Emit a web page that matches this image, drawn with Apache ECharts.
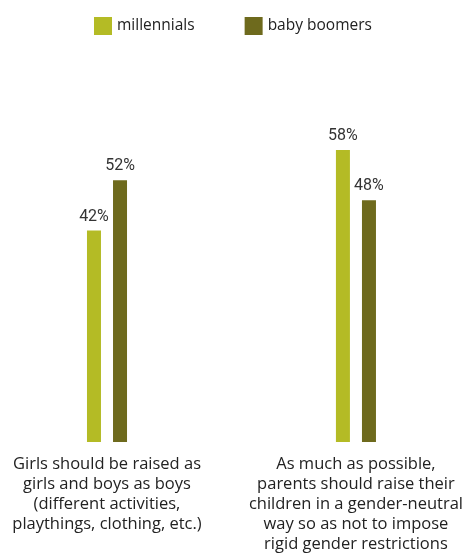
<!DOCTYPE html>
<html><head><meta charset="utf-8">
<script src="https://cdn.jsdelivr.net/npm/echarts@6/dist/echarts.min.js"></script>
<style>html,body{margin:0;padding:0;background:#fff}#c{width:466px;height:554px}</style>
</head><body><div id="c"></div>
<script>
var categories = [
  "Girls should be raised as\ngirls and boys as boys\n(different activities,\nplaythings, clothing, etc.)",
  "As much as possible,\nparents should raise their\nchildren in a gender-neutral\nway so as not to impose\nrigid gender restrictions"
];
var seriesNames = ["millennials", "baby boomers"];
var millennials = [42, 58];
var babyBoomers = [52, 48];
var colors = ["#b4bb25", "#6e6a1d"];

var chart = echarts.init(document.getElementById('c'), null, {renderer: 'canvas'});
var labelStyle = {
  show: true, position: 'top', distance: 6,
  formatter: '{c}%',
  fontFamily: "Roboto, sans-serif",
  fontSize: 16, color: '#333'
};
chart.setOption({
  animation: false,
  backgroundColor: '#fff',
  legend: {
    left: 89, top: 12,
    itemWidth: 18, itemHeight: 18, itemGap: 50,
    icon: 'rect',
    textStyle: {fontFamily: "'Open Sans', sans-serif", fontSize: 15.5, color: '#222', padding: [0,0,0,0]},
    data: seriesNames
  },
  grid: {left: 107, right: 110, top: 150, bottom: 110, containLabel: false},
  xAxis: {
    type: 'category', data: categories, boundaryGap: false,
    axisLine: {show: false}, axisTick: {show: false},
    axisLabel: {interval: 0, margin: 12, fontFamily: "'Open Sans', sans-serif", fontSize: 16.5, lineHeight: 20, color: '#222', align: 'center', verticalAlign: 'top'}
  },
  yAxis: {type: 'value', min: 0, max: 58, show: false, splitLine: {show: false}},
  series: [
    {name: seriesNames[0], type: 'bar', data: millennials, barWidth: 14, barGap: '86%', itemStyle: {color: colors[0]}, label: labelStyle},
    {name: seriesNames[1], type: 'bar', data: babyBoomers, barWidth: 14, barGap: '86%', itemStyle: {color: colors[1]}, label: labelStyle}
  ]
});
</script></body></html>
